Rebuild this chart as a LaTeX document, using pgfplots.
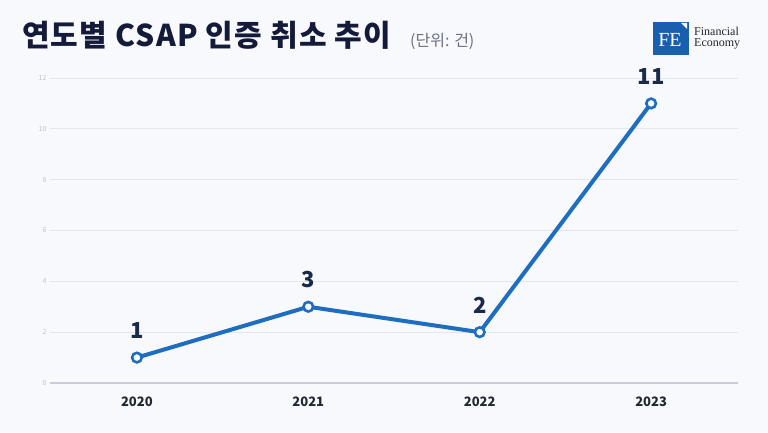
\documentclass[border=0pt]{standalone}
\usepackage{pgfplots}
\pgfplotsset{compat=1.18}
\usepackage{fontspec}
\setmainfont{Noto Sans CJK KR}
\newfontfamily\serif{Liberation Serif}
\definecolor{bg}{HTML}{F7F9FD}
\definecolor{linecol}{HTML}{1F6DBE}
\definecolor{titlecol}{HTML}{141B3A}
\definecolor{labcol}{HTML}{1B2A4A}
\definecolor{subcol}{HTML}{6B7080}
\definecolor{gridcol}{HTML}{E3E6EC}
\definecolor{basecol}{HTML}{C8CCD4}
\definecolor{tickcol}{HTML}{BFC3CC}
\definecolor{yearcol}{HTML}{222831}
\definecolor{logoblue}{HTML}{1A5FAE}
\begin{document}
\begin{tikzpicture}[x=1pt,y=1pt]
\fill[bg] (0pt,0pt) rectangle (768pt,432pt);
% title
\node[anchor=base west, inner sep=0, font=\fontsize{30}{32}\selectfont\bfseries\addfontfeature{LetterSpace=4}, text=titlecol] (t) at (22pt,385pt) {연도별 CSAP 인증 취소 추이};
\node[anchor=base west, inner sep=0, font=\fontsize{16}{18}\selectfont, text=subcol] at (410pt,385pt) {(단위: 건)};
% logo
\fill[logoblue] (653pt,377pt) rectangle (689pt,410pt);
\fill[white] (681pt,409pt) -- (687pt,409pt) -- (687pt,403pt) -- cycle;
\node[text=white, font=\serif\fontsize{20}{22}\selectfont, inner sep=0] at (670pt,392pt) {FE};
\node[anchor=base west, inner sep=0, font=\serif\fontsize{12}{13}\selectfont, text=black!85] at (694pt,396pt) {Financial};
\node[anchor=base west, inner sep=0, font=\serif\fontsize{12}{13}\selectfont, text=black!85] at (694pt,385pt) {Economy};
\begin{axis}[
    at={(50pt,49pt)}, anchor=south west,
    scale only axis, width=688pt, height=305pt,
    xmin=-0.507, xmax=3.507, ymin=0, ymax=12,
    ytick={2,4,...,12}, xtick={0,1,2,3},
    xticklabels={2020,2021,2022,2023},
    extra y ticks={0},
    extra y tick style={grid style={draw=basecol, line width=1.2pt}},
    axis line style={draw=none},
    ymajorgrids, grid style={draw=gridcol, line width=0.8pt},
    major tick length=0pt,
    /pgf/number format/assume math mode=true,
    yticklabel style={font=\fontsize{7}{8}\selectfont, text=tickcol},
    xticklabel style={font=\fontsize{13}{14}\selectfont\bfseries, text=yearcol, yshift=-10pt},
    clip=false,
    nodes near coords,
    every node near coord/.append style={font=\fontsize{22}{24}\selectfont\bfseries, text=labcol, anchor=base, inner sep=0, yshift=19pt},
]
\addplot[color=linecol, line width=4pt, mark=*, mark size=4.8pt,
    mark options={fill=white, draw=linecol, line width=2.6pt}]
    coordinates {(0,1) (1,3) (2,2) (3,11)};
\end{axis}
\pgfresetboundingbox
\useasboundingbox (0pt,0pt) rectangle (768pt,432pt);
\end{tikzpicture}
\end{document}
